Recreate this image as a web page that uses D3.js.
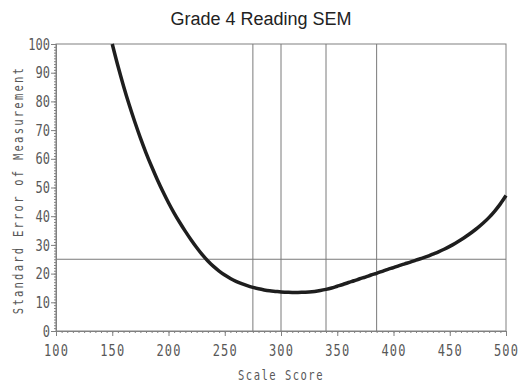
<!DOCTYPE html>
<html>
<head>
<meta charset="utf-8">
<script src="https://cdn.jsdelivr.net/npm/d3@7"></script>
<style>
  body { margin: 0; background: #fff; }
  svg { display: block; }
</style>
</head>
<body>
<div id="chart"></div>
<script>
// scale scores (every 5 points)
var scores = [150,155,160,165,170,175,180,185,190,195,200,205,210,215,220,225,230,235,240,245,
              250,255,260,265,270,275,280,285,290,295,300,305,310,315,320,325,330,335,340,345,
              350,355,360,365,370,375,380,385,390,395,400,405,410,415,420,425,430,435,440,445,
              450,455,460,465,470,475,480,485,490,495,500];
var sem = [100,92.4,85.4,78.9,72.9,67.3,62.1,57.3,52.8,48.6,44.7,41.1,37.8,34.7,31.8,29.1,26.6,24.4,22.5,20.9,
           19.5,18.3,17.3,16.5,15.8,15.2,14.7,14.3,14.0,13.8,13.6,13.5,13.4,13.4,13.5,13.6,13.8,14.1,14.5,15.0,
           15.6,16.2,16.9,17.5,18.2,18.8,19.5,20.1,20.8,21.5,22.1,22.8,23.4,24.0,24.7,25.3,26.0,26.8,27.6,28.5,
           29.5,30.6,31.8,33.1,34.5,36.0,37.7,39.6,41.8,44.3,47.2];
var cutScores = [275, 300, 340, 385];
var refSem = [25];
var xTicks = [100,150,200,250,300,350,400,450,500];
var yTicks = [0,10,20,30,40,50,60,70,80,90,100];

var W = 520, H = 390;
var margin = { top: 44, right: 14, bottom: 59, left: 56 };
var colors = { axis: "#808080", text: "#585858", ref: "#7a7a7a", curve: "#1e1e1e", title: "#222" };
var mono = "'DejaVu Sans Mono', 'Liberation Mono', monospace";
var squeeze = 0.75;

var svg = d3.select("#chart").append("svg").attr("width", W).attr("height", H);

var x = d3.scaleLinear().domain([100, 500]).range([margin.left, W - margin.right]);
var y = d3.scaleLinear().domain([0, 100]).range([H - margin.bottom, margin.top]);

//title
svg.append("text")
  .attr("x", 261).attr("y", 25)
  .attr("text-anchor", "middle")
  .attr("font-family", "'Liberation Sans', Arial, sans-serif")
  .attr("font-size", 18)
  .attr("fill", colors.title)
  .text("Grade 4 Reading SEM");

//frame
svg.append("rect")
  .attr("x", x(100)).attr("y", y(100))
  .attr("width", x(500) - x(100)).attr("height", y(0) - y(100))
  .attr("fill", "none").attr("stroke", colors.axis).attr("stroke-width", 1);

//reference lines
svg.selectAll("line.cut").data(cutScores).enter().append("line")
  .attr("class", "cut")
  .attr("x1", function(d) { return x(d); }).attr("x2", function(d) { return x(d); })
  .attr("y1", y(0)).attr("y2", y(100))
  .attr("stroke", colors.ref).attr("stroke-width", 1);

svg.selectAll("line.ref").data(refSem).enter().append("line")
  .attr("class", "ref")
  .attr("x1", x(100)).attr("x2", x(500))
  .attr("y1", function(d) { return y(d); }).attr("y2", function(d) { return y(d); })
  .attr("stroke", colors.ref).attr("stroke-width", 1);

function styleAxis(g) {
  g.selectAll(".domain").attr("stroke", colors.axis);
  g.selectAll(".tick line").attr("stroke", colors.axis);
}

//minor ticks
var xMinor = svg.append("g").attr("transform", "translate(0," + y(0) + ")")
  .call(d3.axisBottom(x).tickValues(d3.range(100, 501, 5)).tickSize(2).tickFormat(""));
styleAxis(xMinor);
var yMinor = svg.append("g").attr("transform", "translate(" + x(100) + ",0)")
  .call(d3.axisLeft(y).tickValues(d3.range(0, 101, 1)).tickSize(2).tickFormat(""));
styleAxis(yMinor);

//major ticks + labels
var xAxis = svg.append("g").attr("transform", "translate(0," + y(0) + ")")
  .call(d3.axisBottom(x).tickValues(xTicks).tickSize(5).tickPadding(9));
styleAxis(xAxis);
xAxis.selectAll(".tick text")
  .attr("font-family", mono).attr("font-size", 16).attr("fill", colors.text)
  .attr("letter-spacing", 1.5)
  .attr("transform", "scale(" + squeeze + ",1)");

var yAxis = svg.append("g").attr("transform", "translate(" + x(100) + ",0)")
  .call(d3.axisLeft(y).tickValues(yTicks).tickSize(5).tickPadding(1));
styleAxis(yAxis);
yAxis.selectAll(".tick text")
  .attr("font-family", mono).attr("font-size", 16).attr("fill", colors.text)
  .attr("x", -6 / squeeze)
  .attr("transform", "scale(" + squeeze + ",1)");

//axis titles
svg.append("text")
  .attr("transform", "translate(23,190) rotate(-90) scale(" + squeeze + ",1)")
  .attr("text-anchor", "middle")
  .attr("font-family", mono).attr("font-size", 14).attr("fill", colors.text)
  .attr("letter-spacing", 3)
  .text("Standard Error of Measurement");

svg.append("text")
  .attr("transform", "translate(" + ((x(100) + x(500)) / 2) + ",380) scale(" + squeeze + ",1)")
  .attr("text-anchor", "middle")
  .attr("font-family", mono).attr("font-size", 14).attr("fill", colors.text)
  .attr("letter-spacing", 2)
  .text("Scale Score");

//SEM curve
var pts = scores.map(function(s, i) { return { score: s, sem: sem[i] }; });
var line = d3.line()
  .x(function(d) { return x(d.score); })
  .y(function(d) { return y(d.sem); })
  .curve(d3.curveCatmullRom);

svg.append("path").datum(pts)
  .attr("d", line)
  .attr("fill", "none")
  .attr("stroke", colors.curve)
  .attr("stroke-width", 3.5)
  .attr("stroke-linejoin", "round");
</script>
</body>
</html>
